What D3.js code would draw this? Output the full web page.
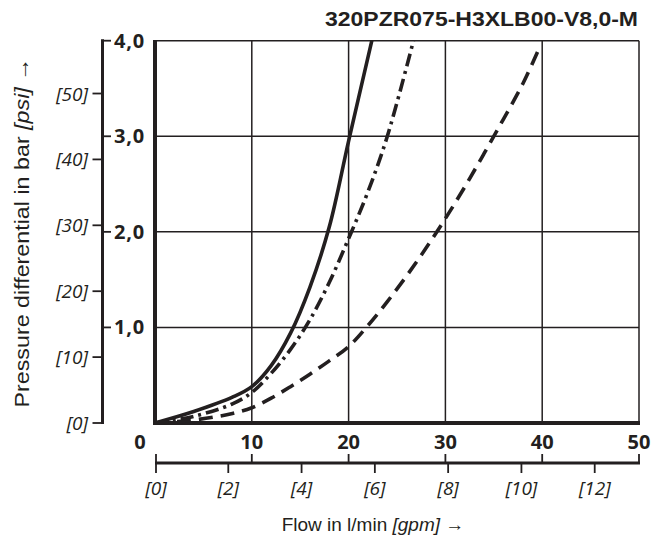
<!DOCTYPE html>
<html>
<head>
<meta charset="utf-8">
<script src="https://cdn.jsdelivr.net/npm/d3@7"></script>
<style>
  body { margin: 0; background: #fff; }
  svg { display: block; }
</style>
</head>
<body>
<div id="chart"></div>
<script>
// Werte (Durchfluss l/min, Druckdifferenz bar)
const flowTicks = [0, 10, 20, 30, 40, 50];
const barTicks = [1, 2, 3, 4];
const psiTicks = [0, 10, 20, 30, 40, 50];
const gpmTicks = [0, 2, 4, 6, 8, 10, 12];

const curveSolid = [[0, 0], [4, 0.12], [8, 0.27], [10, 0.38], [12, 0.6], [14, 0.94], [16, 1.42],
  [18, 2.05], [20, 2.95], [22.4, 4.0]];
const curveDashDot = [[0, 0], [4, 0.07], [8, 0.2], [10, 0.32], [12, 0.52], [14, 0.77], [16, 1.08],
  [18, 1.47], [20, 1.93], [22, 2.42], [24, 3.0], [26.7, 4.0]];
const curveDashed = [[0, 0], [3, 0.02], [6, 0.06], [8, 0.1], [10, 0.16], [12, 0.26], [14, 0.38],
  [16, 0.51], [18, 0.65], [20, 0.8], [22, 1.02], [24, 1.27], [26, 1.54], [28, 1.83], [30, 2.14],
  [32, 2.47], [34, 2.82], [36, 3.18], [38, 3.55], [39.6, 3.9]];

const BAR_TO_PSI = 14.5038;
const LPM_PER_GPM = 3.78541;

const width = 668, height = 542;
const ink = "#231f20";
const numFont = "'Open Sans', sans-serif";
const textFont = "'Liberation Sans', Arial, sans-serif";

const svg = d3.select("#chart").append("svg")
  .attr("width", width)
  .attr("height", height);

const x = d3.scaleLinear().domain([0, 50]).range([155, 639]);
const y = d3.scaleLinear().domain([0, 4]).range([423, 40.7]);
const yPsi = d3.scaleLinear().domain([0, 4 * BAR_TO_PSI]).range([423, 40.7]);
const xGpm = d3.scaleLinear().domain([0, 50 / LPM_PER_GPM]).range([155, 639]);

// Gitter
const grid = svg.append("g").attr("stroke", ink).attr("stroke-width", 1.5);
grid.selectAll("line.v")
  .data(flowTicks.slice(1))
  .enter().append("line")
  .attr("x1", d => x(d)).attr("x2", d => x(d))
  .attr("y1", y(0)).attr("y2", y(4));
grid.selectAll("line.h")
  .data(barTicks)
  .enter().append("line")
  .attr("x1", x(0)).attr("x2", x(50))
  .attr("y1", d => y(d)).attr("y2", d => y(d));

// Rahmen: links und unten dick
svg.append("line")
  .attr("x1", x(0)).attr("x2", x(0)).attr("y1", y(4) - 0.7).attr("y2", y(0) + 2)
  .attr("stroke", ink).attr("stroke-width", 4);
svg.append("line")
  .attr("x1", x(0) - 2).attr("x2", x(50) + 1).attr("y1", y(0)).attr("y2", y(0))
  .attr("stroke", ink).attr("stroke-width", 4);

// Kurven
const line = d3.line()
  .x(d => x(d[0]))
  .y(d => y(d[1]))
  .curve(d3.curveCatmullRom.alpha(0.5));

const curves = [
  { data: curveSolid, dash: null },
  { data: curveDashDot, dash: "13,5,3,5" },
  { data: curveDashed, dash: "14,8" }
];
svg.append("g").selectAll("path")
  .data(curves)
  .enter().append("path")
  .attr("d", d => line(d.data))
  .attr("fill", "none")
  .attr("stroke", ink)
  .attr("stroke-width", 3.6)
  .attr("stroke-dasharray", d => d.dash);

// linke Achse (bar rechts, psi links)
const leftX = 102.5;
svg.append("line")
  .attr("x1", leftX).attr("x2", leftX).attr("y1", y(4) - 1.5).attr("y2", y(0) + 1)
  .attr("stroke", ink).attr("stroke-width", 3);

const barAxis = svg.append("g");
barAxis.selectAll("line")
  .data(barTicks)
  .enter().append("line")
  .attr("x1", leftX).attr("x2", 111)
  .attr("y1", d => y(d)).attr("y2", d => y(d))
  .attr("stroke", ink).attr("stroke-width", 1.8);
barAxis.selectAll("text")
  .data(barTicks)
  .enter().append("text")
  .attr("x", 114)
  .attr("y", d => y(d) + 7)
  .attr("font-family", numFont)
  .attr("font-weight", "bold")
  .attr("font-size", 20)
  .attr("letter-spacing", 0.8)
  .attr("fill", ink)
  .text(d => d3.format(".1f")(d).replace(".", ","));

const psiAxis = svg.append("g");
psiAxis.selectAll("line")
  .data(psiTicks)
  .enter().append("line")
  .attr("x1", 92.5).attr("x2", leftX)
  .attr("y1", d => yPsi(d)).attr("y2", d => yPsi(d))
  .attr("stroke", ink).attr("stroke-width", 1.8);
psiAxis.selectAll("text")
  .data(psiTicks)
  .enter().append("text")
  .attr("x", 88)
  .attr("y", d => yPsi(d) + 7)
  .attr("text-anchor", "end")
  .attr("font-family", numFont)
  .attr("font-style", "italic")
  .attr("font-size", 19)
  .attr("fill", ink)
  .text(d => "[" + d + "]");

// untere Achse (l/min oben, gpm unten)
const axisY = 463;
svg.append("line")
  .attr("x1", x(0)).attr("x2", x(50) + 1).attr("y1", axisY).attr("y2", axisY)
  .attr("stroke", ink).attr("stroke-width", 3);

const flowAxis = svg.append("g");
flowAxis.selectAll("line")
  .data(flowTicks)
  .enter().append("line")
  .attr("x1", d => x(d) + (d === 0 ? 1 : 0)).attr("x2", d => x(d) + (d === 0 ? 1 : 0))
  .attr("y1", 454).attr("y2", axisY)
  .attr("stroke", ink).attr("stroke-width", 1.8);
flowAxis.selectAll("text")
  .data(flowTicks)
  .enter().append("text")
  .attr("x", d => x(d) - (d === 0 ? 15 : 0))
  .attr("y", 449)
  .attr("text-anchor", "middle")
  .attr("font-family", numFont)
  .attr("font-weight", "bold")
  .attr("font-size", 20)
  .attr("fill", ink)
  .text(d => d);

const gpmAxis = svg.append("g");
gpmAxis.selectAll("line")
  .data(gpmTicks)
  .enter().append("line")
  .attr("x1", d => xGpm(d) + (d === 0 ? 1 : 0)).attr("x2", d => xGpm(d) + (d === 0 ? 1 : 0))
  .attr("y1", axisY).attr("y2", 473)
  .attr("stroke", ink).attr("stroke-width", 1.8);
gpmAxis.selectAll("text")
  .data(gpmTicks)
  .enter().append("text")
  .attr("x", d => xGpm(d) + (d === 0 ? 1 : 0))
  .attr("y", 495)
  .attr("text-anchor", "middle")
  .attr("font-family", numFont)
  .attr("font-style", "italic")
  .attr("font-size", 19)
  .attr("fill", ink)
  .text(d => "[" + d + "]");

// Achsentitel
const xTitle = svg.append("text")
  .attr("x", 373)
  .attr("y", 531)
  .attr("text-anchor", "middle")
  .attr("font-family", textFont)
  .attr("font-size", 19)
  .attr("fill", ink);
xTitle.append("tspan").text("Flow in l/min ");
xTitle.append("tspan").attr("font-style", "italic").text("[gpm]");
xTitle.append("tspan").text(" \u2192");

const yTitle = svg.append("text")
  .attr("transform", "translate(28.5,232.5) rotate(-90)")
  .attr("text-anchor", "middle")
  .attr("font-family", textFont)
  .attr("font-size", 21)
  .attr("textLength", 350)
  .attr("lengthAdjust", "spacingAndGlyphs")
  .attr("fill", ink);
yTitle.append("tspan").text("Pressure differential in bar ");
yTitle.append("tspan").attr("font-style", "italic").text("[psi]");
yTitle.append("tspan").text(" \u2192");

// Typbezeichnung
svg.append("text")
  .attr("x", 638)
  .attr("y", 25.5)
  .attr("text-anchor", "end")
  .attr("font-family", textFont)
  .attr("font-weight", "bold")
  .attr("font-size", 21)
  .attr("textLength", 313)
  .attr("lengthAdjust", "spacingAndGlyphs")
  .attr("fill", ink)
  .text("320PZR075-H3XLB00-V8,0-M");
</script>
</body>
</html>
